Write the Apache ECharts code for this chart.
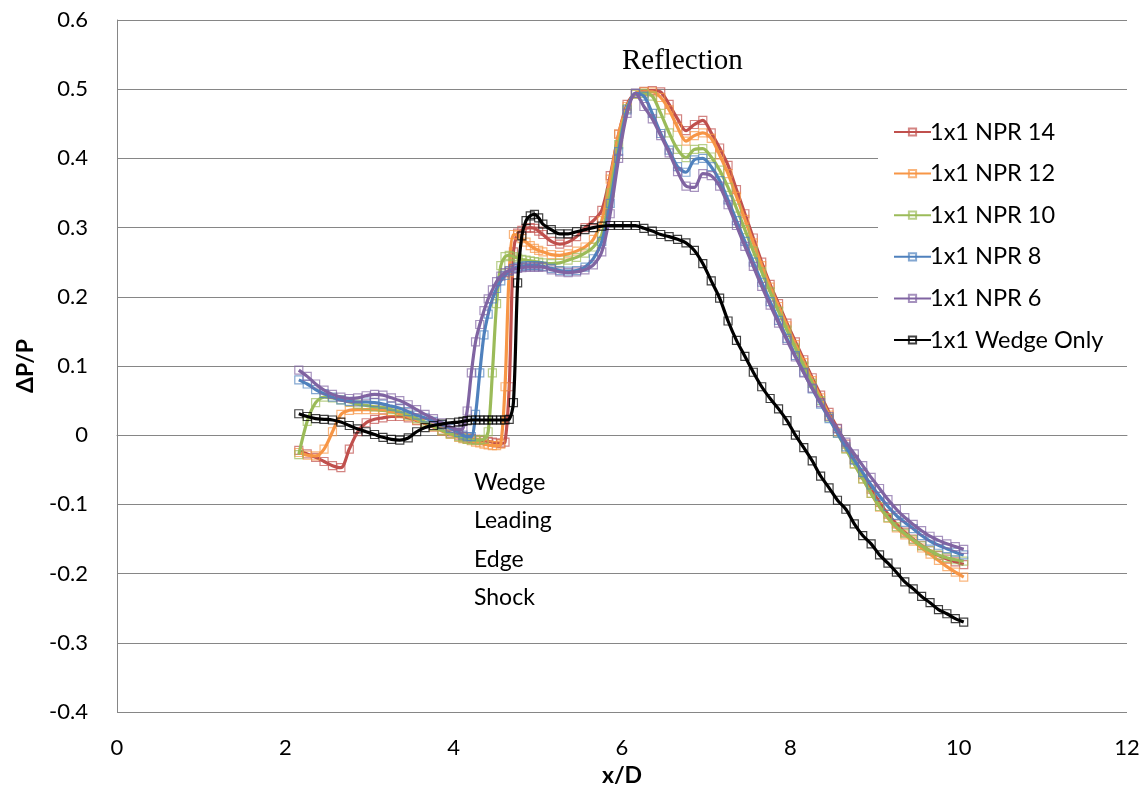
<!DOCTYPE html>
<html>
<head>
<meta charset="utf-8">
<script src="https://cdn.jsdelivr.net/npm/echarts@6/dist/echarts.min.js"></script>
<style>
html,body{margin:0;padding:0;background:#fff;}
#chart{width:1147px;height:794px;}
</style>
</head>
<body>
<div id="chart"></div>
<script>
// x/D positions of the measurement points (shared by all series)
const xD = [
  2.16,2.26,2.36,2.46,2.56,2.66,2.76,2.86,2.96,3.06,3.16,3.26,3.36,3.46,3.56,3.66,3.76,3.86,3.96,
  4.06,4.11,4.16,4.21,4.26,4.31,4.36,4.41,4.46,4.51,4.56,4.61,4.66,4.71,4.76,4.81,4.86,4.91,4.96,5.01,
  5.06,5.16,5.26,5.36,5.46,5.56,5.66,5.76,5.86,5.96,6.06,6.16,6.26,6.36,6.46,6.56,6.66,6.76,6.86,6.96,7.06,
  7.16,7.26,7.36,7.46,7.56,7.66,7.76,7.86,7.96,8.06,8.16,8.26,8.36,8.46,8.56,8.66,8.76,8.86,8.96,9.06,
  9.16,9.26,9.36,9.46,9.56,9.66,9.76,9.86,9.96,10.06
];

const npr14 = [
  -0.022,-0.027,-0.032,-0.038,-0.044,-0.047,-0.02,0.005,0.018,0.023,0.025,0.027,0.027,0.025,0.021,0.017,0.012,0.007,0.003,
  0.0,-0.002,-0.004,-0.005,-0.006,-0.007,-0.008,-0.009,-0.01,-0.011,-0.012,-0.01,0.07,0.265,0.292,0.296,0.299,0.3,0.299,0.295,
  0.29,0.28,0.276,0.279,0.287,0.3,0.31,0.325,0.375,0.435,0.478,0.494,0.497,0.498,0.496,0.478,0.457,0.44,0.449,0.455,0.437,
  0.415,0.39,0.355,0.32,0.285,0.25,0.218,0.19,0.162,0.135,0.109,0.083,0.058,0.033,0.01,-0.013,-0.035,-0.057,-0.078,-0.097,
  -0.114,-0.128,-0.14,-0.15,-0.159,-0.167,-0.174,-0.179,-0.183,-0.187
];
const npr12 = [
  -0.025,-0.029,-0.03,-0.02,0.005,0.03,0.036,0.037,0.037,0.037,0.036,0.034,0.031,0.027,0.022,0.017,0.012,0.006,0.001,
  -0.003,-0.005,-0.006,-0.008,-0.01,-0.011,-0.013,-0.014,-0.015,-0.015,-0.013,0.07,0.235,0.29,0.289,0.284,0.279,0.274,0.27,0.267,
  0.265,0.261,0.26,0.262,0.266,0.272,0.283,0.31,0.37,0.435,0.475,0.493,0.496,0.496,0.488,0.47,0.445,0.425,0.433,0.437,0.429,
  0.405,0.378,0.345,0.312,0.278,0.245,0.214,0.186,0.158,0.131,0.105,0.079,0.054,0.029,0.005,-0.019,-0.041,-0.063,-0.084,-0.104,
  -0.12,-0.134,-0.144,-0.153,-0.163,-0.172,-0.181,-0.19,-0.198,-0.205
];
const npr10 = [
  -0.028,0.02,0.047,0.055,0.054,0.051,0.048,0.045,0.043,0.041,0.04,0.037,0.034,0.029,0.024,0.019,0.013,0.007,0.002,
  -0.002,-0.004,-0.006,-0.007,-0.007,-0.007,-0.006,0.005,0.09,0.19,0.245,0.258,0.26,0.258,0.256,0.254,0.253,0.252,0.251,0.25,
  0.249,0.248,0.249,0.253,0.257,0.263,0.272,0.29,0.35,0.42,0.472,0.493,0.494,0.49,0.465,0.437,0.413,0.401,0.413,0.414,0.402,
  0.383,0.358,0.328,0.297,0.266,0.236,0.207,0.179,0.152,0.126,0.1,0.075,0.05,0.026,0.003,-0.02,-0.042,-0.063,-0.084,-0.103,
  -0.119,-0.132,-0.142,-0.151,-0.16,-0.167,-0.173,-0.177,-0.18,-0.182
];
const npr8 = [
  0.08,0.074,0.066,0.06,0.055,0.051,0.049,0.048,0.048,0.047,0.045,0.042,0.039,0.034,0.029,0.025,0.02,0.015,0.01,
  0.004,0.0,-0.002,-0.002,0.03,0.09,0.145,0.175,0.197,0.212,0.223,0.231,0.237,0.241,0.243,0.244,0.245,0.245,0.245,0.245,
  0.244,0.241,0.238,0.237,0.238,0.243,0.255,0.28,0.335,0.41,0.47,0.494,0.49,0.465,0.436,0.412,0.388,0.38,0.398,0.4,0.388,
  0.368,0.34,0.31,0.28,0.25,0.221,0.193,0.166,0.14,0.115,0.091,0.067,0.045,0.024,0.003,-0.017,-0.036,-0.054,-0.072,-0.088,
  -0.103,-0.116,-0.126,-0.135,-0.145,-0.153,-0.159,-0.164,-0.169,-0.173
];
const npr6 = [
  0.094,0.085,0.074,0.065,0.059,0.055,0.053,0.054,0.057,0.059,0.058,0.054,0.05,0.044,0.037,0.03,0.024,0.018,0.012,
  0.008,0.01,0.035,0.09,0.135,0.16,0.18,0.197,0.21,0.222,0.23,0.235,0.238,0.24,0.241,0.242,0.243,0.243,0.243,0.243,
  0.243,0.239,0.236,0.235,0.236,0.239,0.246,0.265,0.32,0.4,0.465,0.494,0.475,0.457,0.433,0.408,0.381,0.36,0.358,0.378,0.375,
  0.36,0.333,0.303,0.273,0.244,0.215,0.188,0.162,0.137,0.113,0.09,0.068,0.047,0.027,0.009,-0.01,-0.027,-0.044,-0.061,-0.077,
  -0.093,-0.107,-0.119,-0.129,-0.138,-0.146,-0.152,-0.157,-0.161,-0.165
];
const wedgeOnly = [
  0.031,0.027,0.024,0.023,0.022,0.019,0.014,0.009,0.005,0.001,-0.003,-0.006,-0.007,-0.004,0.005,0.011,0.014,0.016,0.018,
  0.019,0.02,0.021,0.022,0.022,0.022,0.022,0.022,0.022,0.022,0.022,0.022,0.023,0.047,0.22,0.288,0.31,0.317,0.319,0.314,
  0.305,0.297,0.291,0.291,0.294,0.297,0.3,0.302,0.303,0.303,0.303,0.303,0.299,0.295,0.29,0.287,0.283,0.278,0.267,0.248,0.223,
  0.198,0.165,0.137,0.114,0.091,0.07,0.053,0.038,0.021,0.0,-0.018,-0.037,-0.059,-0.076,-0.094,-0.107,-0.128,-0.145,-0.157,-0.173,
  -0.185,-0.198,-0.212,-0.222,-0.233,-0.242,-0.252,-0.258,-0.265,-0.27
];

const seriesNames = ['1x1 NPR 14','1x1 NPR 12','1x1 NPR 10','1x1 NPR 8','1x1 NPR 6','1x1 Wedge Only'];
const seriesValues = [npr14, npr12, npr10, npr8, npr6, wedgeOnly];
const seriesColors = ['#C0504D','#F79646','#9BBB59','#4F81BD','#8064A2','#000000'];
const markerColors = ['rgba(192,80,77,0.7)','rgba(247,150,70,0.7)','rgba(155,187,89,0.7)','rgba(79,129,189,0.7)','rgba(128,100,162,0.7)','rgba(0,0,0,0.75)'];

const xTicks = {min: 0, max: 12, interval: 2};
const yTicks = {min: -0.4, max: 0.6, interval: 0.1};

const FONT = 'Lato, "Open Sans", sans-serif';

const chart = echarts.init(document.getElementById('chart'), null, {renderer: 'canvas'});

const series = seriesNames.map((name, i) => ({
  name: name,
  type: 'line',
  data: xD.map((x, k) => [x, seriesValues[i][k]]),
  smooth: 0.3,
  symbol: 'rect',
  symbolSize: 8,
  showSymbol: true,
  lineStyle: {color: seriesColors[i], width: 3.2},
  itemStyle: {color: '#ffffff00', borderColor: markerColors[i], borderWidth: 1.2},
  emphasis: {disabled: true},
  z: 2 + i
}));

chart.setOption({
  animation: false,
  backgroundColor: '#ffffff',
  grid: {left: 117, right: 20, top: 20, bottom: 82, containLabel: false},
  xAxis: {
    type: 'value',
    min: xTicks.min, max: xTicks.max, interval: xTicks.interval,
    name: 'x/D',
    nameLocation: 'middle',
    nameGap: 52,
    nameTextStyle: {fontFamily: FONT, fontSize: 23, fontWeight: 'bold', color: '#000'},
    axisLine: {show: true, lineStyle: {color: '#868686', width: 1}},
    axisTick: {show: false},
    axisLabel: {fontFamily: FONT, fontSize: 22, color: '#000', margin: 25},
    splitLine: {show: false}
  },
  yAxis: {
    type: 'value',
    min: yTicks.min, max: yTicks.max, interval: yTicks.interval,
    name: 'ΔP/P',
    nameLocation: 'middle',
    nameRotate: 90,
    nameGap: 80,
    nameTextStyle: {fontFamily: FONT, fontSize: 23, fontWeight: 'bold', color: '#000'},
    axisLine: {show: true, lineStyle: {color: '#868686', width: 1}},
    axisTick: {show: false},
    axisLabel: {
      fontFamily: FONT, fontSize: 22, color: '#000', margin: 29,
      formatter: v => String(Math.round(v * 10) / 10)
    },
    splitLine: {show: true, lineStyle: {color: '#868686', width: 1}}
  },
  legend: {
    orient: 'vertical',
    left: 878,
    top: 112,
    padding: [8, 40, 8, 15],
    backgroundColor: '#ffffff',
    itemWidth: 37,
    itemHeight: 9,
    itemGap: 17.6,
    textStyle: {fontFamily: FONT, fontSize: 23.5, lineHeight: 24, color: '#000', padding: [0, 0, 0, -6]},
    data: seriesNames
  },
  graphic: [
    {type: 'text', left: 622, top: 47, z: 100,
     style: {text: 'Reflection', font: '29px "Liberation Serif", "Times New Roman", serif', fill: '#000'}},
    {type: 'text', left: 474, top: 463, z: 100,
     style: {text: 'Wedge\nLeading\nEdge\nShock', font: '23px ' + FONT, lineHeight: 38.5, fill: '#000'}}
  ],
  series: series
});
</script>
</body>
</html>
